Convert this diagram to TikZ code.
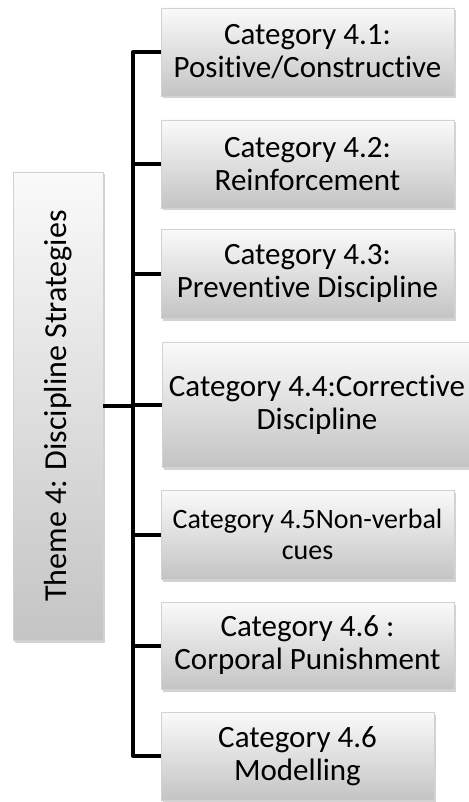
\documentclass[tikz,border=0pt]{standalone}
\usepackage{fontspec}
\setmainfont{Carlito}[Ligatures=NoCommon]
\usepackage{xcolor}
\usepackage{tikz}
\usetikzlibrary{positioning}
\usetikzlibrary{shadows}

\definecolor{boxtop}{HTML}{FAFAFA}
\definecolor{boxbot}{HTML}{C4C4C4}
\definecolor{boxline}{HTML}{D2D2D2}

\tikzset{
  catbox/.style={draw=boxline, line width=0.6pt, top color=boxtop, bottom color=boxbot,
    drop shadow={opacity=0.35, shadow xshift=1.5pt, shadow yshift=-2.5pt},
    align=center, inner sep=1pt, font=\fontsize{31}{33}\selectfont},
  conn/.style={line width=4pt, line join=round}
}

\begin{document}
\begin{tikzpicture}[x=1pt,y=-1pt]
  \useasboundingbox (0,0) rectangle (468,802);

  % Theme on the left
  \node[catbox, minimum width=90pt, minimum height=468pt, font=\fontsize{32}{34}\selectfont] (theme) at (58,406)
    {\rotatebox{90}{Theme 4: Discipline Strategies}};

  % Categories on the right
  \node[catbox, minimum width=293pt, minimum height=88pt] (c1) at (307.5,52)
    {Category 4.1:\\Positive/Constructive};
  \node[catbox, minimum width=293pt, minimum height=88pt] (c2) at (307.5,164)
    {Category 4.2:\\Reinforcement};
  \node[catbox, minimum width=293pt, minimum height=89pt] (c3) at (307.5,273.5)
    {Category 4.3:\\Preventive Discipline};
  \node[catbox, minimum width=310pt, minimum height=125pt] (c4) at (317,404.5)
    {Category 4.4:Corrective\\Discipline};
  \node[catbox, minimum width=293pt, minimum height=89pt, font=\fontsize{28}{31}\selectfont] (c5) at (307.5,534.5)
    {Category 4.5Non-verbal\\cues};
  \node[catbox, minimum width=293pt, minimum height=87pt] (c6) at (307.5,645.5)
    {Category 4.6 :\\Corporal Punishment};
  \node[catbox, minimum width=273pt, minimum height=88pt] (c7) at (297.5,756)
    {Category 4.6\\Modelling};

  % Tree lines
  \coordinate (trunk) at (133,52);
  \draw[conn] (c1.west) -- (c1.west -| trunk) -- (c7.west -| trunk) -- (c7.west);
  \draw[conn] (c2.west) -- (c2.west -| trunk);
  \draw[conn] (c3.west) -- (c3.west -| trunk);
  \draw[conn] (c4.west) -- (c4.west -| trunk);
  \draw[conn] (c5.west) -- (c5.west -| trunk);
  \draw[conn] (c6.west) -- (c6.west -| trunk);
  \draw[conn] (theme.east) -- (theme.east -| trunk);
\end{tikzpicture}
\end{document}
